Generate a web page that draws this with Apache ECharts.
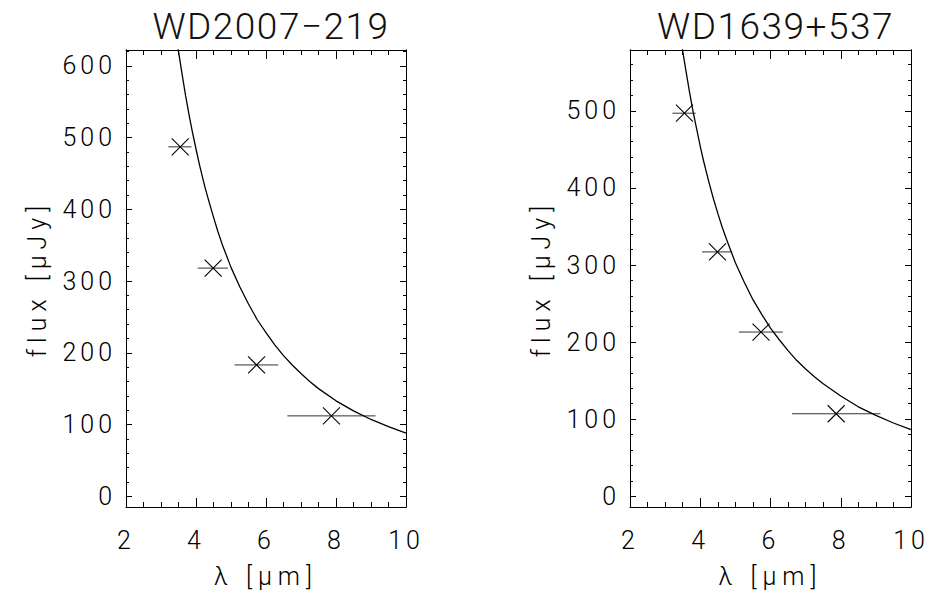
<!DOCTYPE html>
<html>
<head>
<meta charset="utf-8">
<script src="https://cdn.jsdelivr.net/npm/echarts@6/dist/echarts.min.js"></script>
<style>
  html, body { margin: 0; padding: 0; background: #fff; }
  #c { width: 929px; height: 598px; }
</style>
</head>
<body>
<div id="c"></div>
<script>
// ---- data ----
const titles = ['WD2007\u2212219', 'WD1639+537'];
const xTicks = [2, 4, 6, 8, 10];
const yTicksL = [0, 100, 200, 300, 400, 500, 600];
const yTicksR = [0, 100, 200, 300, 400, 500];

// IRAC band centres and horizontal error-bar ends (microns)
const bandLam = [3.55, 4.49, 5.73, 7.87];
const bandLo  = [3.21, 4.05, 5.10, 6.61];
const bandHi  = [3.87, 4.91, 6.35, 9.13];

// measured fluxes (uJy)
const fluxL = [487, 318, 183, 112];
const fluxR = [497, 317, 213, 107];

// model curves
const modelLam = [3.47, 3.5, 3.6, 3.7, 3.8, 3.9, 4.0, 4.1, 4.25, 4.375, 4.5, 4.625, 4.75, 5.0, 5.25, 5.5, 5.75, 6.0, 6.25, 6.5, 6.75, 7.0, 7.25, 7.5, 8.0, 8.5, 9.0, 9.5, 10.0];
const modelL   = [630, 620, 589, 559, 532, 507, 484, 462, 432, 410, 389, 369, 351, 319, 292, 268, 246, 228, 211, 196, 183, 171, 160, 150, 133, 119, 107, 97, 88];
const modelR   = [588, 578, 550, 523, 498, 476, 454, 434, 407, 386, 367, 349, 333, 303, 278, 255, 236, 218, 203, 189, 176, 165, 155, 146, 130, 116, 105, 95, 86.5];

// ---- layout ----
const yRangeL = [-15, 622];
const yRangeR = [-14, 579];
const gridsPx = [
  { left: 126, top: 50, width: 280, height: 457 },
  { left: 630, top: 50, width: 281, height: 457 }
];
const FAM = 'Roboto';
const tickFont = { fontFamily: FAM, fontSize: 25, fontWeight: 300, color: '#000' };
const black = { color: '#000', width: 1 };

function makeXAxes(gi) {
  const base = {
    gridIndex: gi, type: 'value', min: xTicks[0], max: xTicks[xTicks.length - 1],
    interval: xTicks[1] - xTicks[0],
    axisLine: { show: true, onZero: false, lineStyle: black },
    axisTick: { show: true, inside: true, length: 9, lineStyle: black },
    minorTick: { show: true, splitNumber: 4, length: 5, lineStyle: black },
    splitLine: { show: false }, minorSplitLine: { show: false }
  };
  return [
    Object.assign({}, base, {
      position: 'bottom',
      axisLabel: Object.assign({ show: true, margin: 21 }, tickFont),
      name: '\u03bb [\u03bcm]', nameLocation: 'middle', nameGap: 57,
      nameTextStyle: Object.assign({}, tickFont)
    }),
    Object.assign({}, base, { position: 'top', axisLabel: { show: false } })
  ];
}

function makeYAxes(gi, range, ticks) {
  const minor = [];
  for (let v = 20; v < range[1]; v += 20) if (v % 100 !== 0) minor.push(v);
  const base = {
    gridIndex: gi, type: 'value', min: range[0], max: range[1],
    axisLine: { show: true, onZero: false, lineStyle: black },
    splitLine: { show: false }
  };
  const mk = (pos, vals, len, labels) => Object.assign({}, base, {
    position: pos,
    axisTick: { show: true, inside: true, length: len, customValues: vals, lineStyle: black },
    axisLabel: labels
      ? Object.assign({ show: true, margin: 10, customValues: vals }, tickFont)
      : { show: false }
  });
  const main = mk('left', ticks, 6, true);
  main.name = 'flux [\u03bcJy]';
  main.nameLocation = 'middle';
  main.nameGap = 76;
  main.nameRotate = 90;
  main.nameTextStyle = Object.assign({}, tickFont);
  return [main, mk('left', minor, 3, false), mk('right', ticks, 6, false), mk('right', minor, 3, false)];
}

function errRender(params, api) {
  const x = api.value(0), y = api.value(1), lo = api.value(2), hi = api.value(3);
  const c = api.coord([x, y]);
  const a = api.coord([lo, y]);
  const b = api.coord([hi, y]);
  const s = 8.5;
  return {
    type: 'group',
    children: [
      { type: 'line', shape: { x1: a[0], y1: a[1], x2: b[0], y2: b[1] }, style: { stroke: '#333', lineWidth: 1 } },
      { type: 'line', shape: { x1: c[0] - s, y1: c[1] - s, x2: c[0] + s, y2: c[1] + s }, style: { stroke: '#000', lineWidth: 1.1 } },
      { type: 'line', shape: { x1: c[0] - s, y1: c[1] + s, x2: c[0] + s, y2: c[1] - s }, style: { stroke: '#000', lineWidth: 1.1 } }
    ]
  };
}

const fluxes = [fluxL, fluxR];
const models = [modelL, modelR];
const series = [];
[0, 1].forEach(gi => {
  series.push({
    type: 'line', xAxisIndex: gi * 2, yAxisIndex: gi * 4,
    data: modelLam.map((l, i) => [l, models[gi][i]]),
    showSymbol: false, smooth: false, clip: true,
    lineStyle: { color: '#000', width: 1.3 }, silent: true
  });
  series.push({
    type: 'custom', xAxisIndex: gi * 2, yAxisIndex: gi * 4,
    data: bandLam.map((l, i) => [l, fluxes[gi][i], bandLo[i], bandHi[i]]),
    renderItem: errRender, clip: true, silent: true
  });
});

const option = {
  animation: false,
  backgroundColor: '#fff',
  title: titles.map((t, i) => ({
    text: t, left: gridsPx[i].left + gridsPx[i].width / 2, top: 3, textAlign: 'center',
    textStyle: { fontFamily: 'Roboto', fontSize: 37, fontWeight: 300, color: '#111' }
  })),
  grid: gridsPx,
  xAxis: [].concat(makeXAxes(0), makeXAxes(1)),
  yAxis: [].concat(makeYAxes(0, yRangeL, yTicksL), makeYAxes(1, yRangeR, yTicksR)),
  series: series
};

const chart = echarts.init(document.getElementById('c'), null, { renderer: 'svg' });
chart.setOption(option);
function spaceOut() {
  document.querySelectorAll('#c svg text').forEach(t => {
    const s = t.textContent;
    if (/^WD/.test(s)) t.style.letterSpacing = '1.5px';
    else if (/^flux/.test(s)) t.style.letterSpacing = '6px';
    else if (/^\u03bb/.test(s)) t.style.letterSpacing = '6px';
    else t.style.letterSpacing = '4px';
  });
}
chart.on('finished', spaceOut);
spaceOut();
setTimeout(spaceOut, 30);
</script>
</body>
</html>
